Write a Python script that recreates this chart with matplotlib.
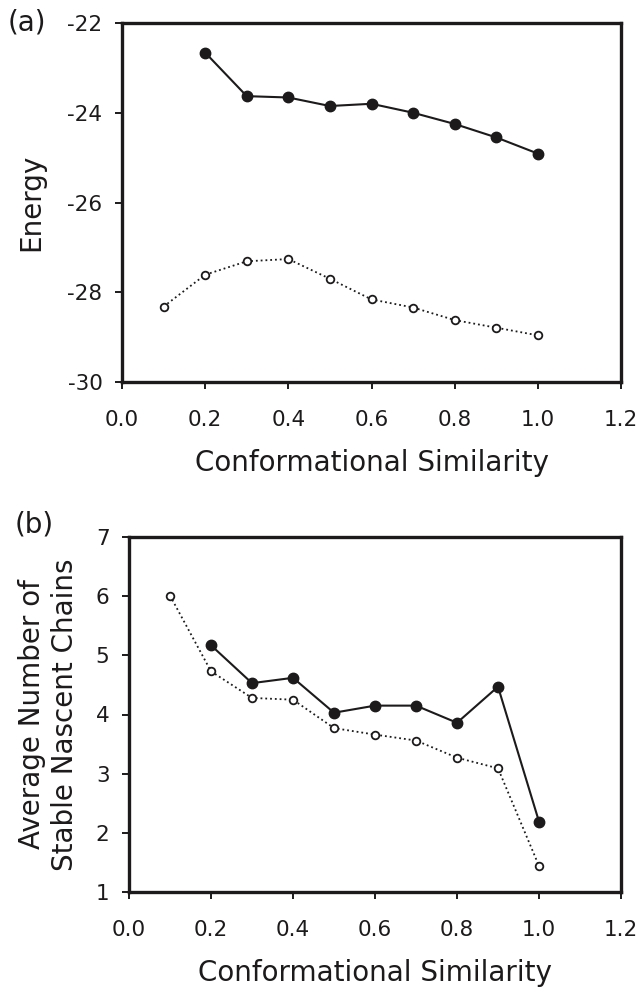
import matplotlib
matplotlib.use("Agg")
import matplotlib.pyplot as plt

plt.rcParams['font.family'] = ['DejaVu Sans']

x_filled = [0.2, 0.3, 0.4, 0.5, 0.6, 0.7, 0.8, 0.9, 1.0]
x_open = [0.1, 0.2, 0.3, 0.4, 0.5, 0.6, 0.7, 0.8, 0.9, 1.0]

energy_filled = [-22.66, -23.63, -23.66, -23.85, -23.80, -24.00, -24.25, -24.55, -24.91]
energy_open = [-28.32, -27.61, -27.31, -27.26, -27.70, -28.16, -28.34, -28.62, -28.79, -28.96]

chains_filled = [5.17, 4.53, 4.62, 4.03, 4.15, 4.15, 3.86, 4.47, 2.19]
chains_open = [6.01, 4.73, 4.28, 4.25, 3.77, 3.66, 3.56, 3.27, 3.09, 1.44]

xticks = [0.0, 0.2, 0.4, 0.6, 0.8, 1.0, 1.2]
xticklabels = ["0.0", "0.2", "0.4", "0.6", "0.8", "1.0", "1.2"]
yticks_a = [-30, -28, -26, -24, -22]
yticks_b = [1, 2, 3, 4, 5, 6, 7]

W, H = 642, 988
fig = plt.figure(figsize=(W / 100, H / 100), dpi=100)

def rect(l, t, r, b):
    return [l / W, 1 - b / H, (r - l) / W, (b - t) / H]

ax1 = fig.add_axes(rect(122, 23, 621, 382))
ax2 = fig.add_axes(rect(129, 537, 621, 892))

tick_fs = 15.5
label_fs = 20
ink = '#1c1a1b'

for ax in (ax1, ax2):
    for s in ax.spines.values():
        s.set_linewidth(2.4)
        s.set_color(ink)
    ax.tick_params(axis='both', direction='out', length=5, width=1.4,
                   labelsize=tick_fs, top=False, right=False, color=ink,
                   labelcolor=ink)
    ax.set_xlim(0, 1.2)
    ax.set_xticks(xticks)
    ax.set_xticklabels(xticklabels)
    ax.tick_params(axis='x', pad=15)
    ax.tick_params(axis='y', pad=9)

# Panel (a)
ax1.plot(x_filled, energy_filled, '-', color=ink, lw=1.5, marker='o',
         ms=7.5, mfc=ink, mec=ink, clip_on=False, zorder=3)
ax1.plot(x_open, energy_open, ':', color=ink, lw=1.3, marker='o',
         ms=5.5, mfc='white', mec=ink, mew=1.3, clip_on=False, zorder=3)
ax1.set_ylim(-30, -22)
ax1.set_yticks(yticks_a)
ax1.set_yticklabels([str(v) for v in yticks_a])
ax1.set_xlabel("Conformational Similarity", fontsize=label_fs, labelpad=14,
               color=ink)
ax1.set_ylabel("Energy", fontsize=label_fs, labelpad=16, color=ink)
fig.text(8 / W, 1 - 22 / H, "(a)", fontsize=20, ha='left', va='center',
         color=ink)

# Panel (b)
ax2.plot(x_filled, chains_filled, '-', color=ink, lw=1.5, marker='o',
         ms=7.5, mfc=ink, mec=ink, clip_on=False, zorder=3)
ax2.plot(x_open, chains_open, ':', color=ink, lw=1.3, marker='o',
         ms=5.5, mfc='white', mec=ink, mew=1.3, clip_on=False, zorder=3)
ax2.set_ylim(1, 7)
ax2.set_yticks(yticks_b)
ax2.set_yticklabels([str(v) for v in yticks_b])
ax2.set_xlabel("Conformational Similarity", fontsize=label_fs, labelpad=14,
               color=ink)
ax2.set_ylabel("Average Number of\nStable Nascent Chains", fontsize=label_fs,
               labelpad=12, linespacing=1.25, color=ink)
fig.text(15 / W, 1 - 524 / H, "(b)", fontsize=20, ha='left', va='center',
         color=ink)

fig.savefig("out.png", dpi=100)
